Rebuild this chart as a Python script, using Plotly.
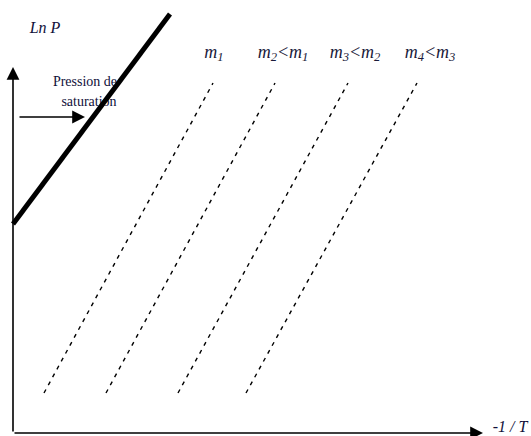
import plotly.graph_objects as go

# Axis units: abscissa is -1/T, ordinate is ln P (arbitrary units, origin at the axis corner)
AXIS_X_END = 470
AXIS_Y_END = 366

# Saturation pressure line (solid, thick)
sat_x = [0, 157]
sat_y = [209, 419]

# Iso-mass lines (dashed), one per loading m1..m4
iso_labels = ["m<sub>1</sub>", "m<sub>2</sub>&lt;m<sub>1</sub>",
              "m<sub>3</sub>&lt;m<sub>2</sub>", "m<sub>4</sub>&lt;m<sub>3</sub>"]
iso_x_low = [31, 93, 165, 233]
iso_x_high = [200, 262, 335, 404]
iso_y_low = 40
iso_y_high = 350
label_x = [201, 270, 342, 417]
label_y = 380

serif = "Liberation Serif, Times New Roman, serif"

fig = go.Figure()

# Text first so the saturation line is painted over it
fig.add_trace(go.Scatter(
    x=label_x, y=[label_y] * 4, mode="text", text=iso_labels,
    textfont=dict(family=serif, size=18, color="#1a1a3a", style="italic"),
    hoverinfo="skip", showlegend=False))
fig.add_trace(go.Scatter(
    x=[72, 76], y=[351, 331], mode="text", text=["Pression de", "saturation"],
    textfont=dict(family=serif, size=14, color="#10103a"),
    hoverinfo="skip", showlegend=False))
fig.add_trace(go.Scatter(
    x=[32, 497], y=[404, 5], mode="text", text=["Ln P", "-1 / T"],
    textfont=dict(family=serif, size=16, color="#10103a", style="italic"),
    hoverinfo="skip", showlegend=False))

for xl, xh in zip(iso_x_low, iso_x_high):
    fig.add_trace(go.Scatter(
        x=[xl, xh], y=[iso_y_low, iso_y_high], mode="lines",
        line=dict(color="black", width=1.4, dash="4px,5px"),
        hoverinfo="skip", showlegend=False))

fig.add_trace(go.Scatter(
    x=sat_x, y=sat_y, mode="lines",
    line=dict(color="black", width=5),
    hoverinfo="skip", showlegend=False))

arrow = dict(xref="x", yref="y", axref="x", ayref="y", text="",
             showarrow=True, arrowhead=2, arrowsize=1.6, arrowwidth=1.6,
             arrowcolor="black", standoff=0)
fig.add_annotation(x=0, y=AXIS_Y_END, ax=0, ay=0, **arrow)
fig.add_annotation(x=AXIS_X_END, y=0, ax=0, ay=0, **arrow)
fig.add_annotation(x=72, y=316, ax=5, ay=316, **arrow)

fig.update_xaxes(visible=False, range=[-13, 518], fixedrange=True)
fig.update_yaxes(visible=False, range=[-3, 433], fixedrange=True)
fig.update_layout(width=531, height=436, margin=dict(l=0, r=0, t=0, b=0),
                  plot_bgcolor="white", paper_bgcolor="white")

fig.write_html("out.html")
